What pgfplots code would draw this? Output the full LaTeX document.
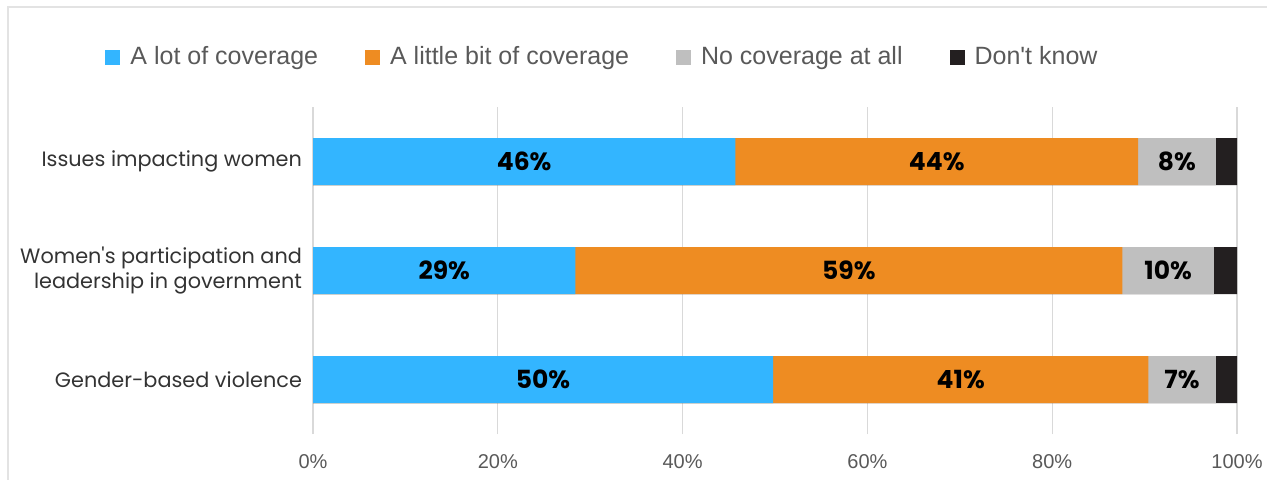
\documentclass[border=0pt]{standalone}
\usepackage{pgfplots}
\pgfplotsset{compat=1.18}
\usepackage{fontspec}
\setmainfont{Liberation Sans}[Ligatures=TeXReset]
\newfontfamily\popp{Poppins}[Ligatures=TeXReset]
\definecolor{cblue}{HTML}{33B5FF}
\definecolor{corange}{HTML}{EE8C22}
\definecolor{cgray}{HTML}{BFBFBF}
\definecolor{cdark}{HTML}{231F20}
\definecolor{txt}{HTML}{595959}
\definecolor{gridc}{HTML}{D9D9D9}
\definecolor{framec}{HTML}{E3E3E3}
\begin{document}
\begin{tikzpicture}
\useasboundingbox (0,0) rectangle (633.5pt,-239.5pt);
\draw[framec, line width=1pt] (4pt,-250pt) -- (4pt,-3.5pt) -- (640pt,-3.5pt);
\begin{axis}[
  at={(156.5pt,-217pt)}, anchor=south west,
  scale only axis, width=462pt, height=163.5pt,
  bar width=23.5pt,
  xmin=0, xmax=100, ymin=-0.5, ymax=2.5,
  ytick={0,1,2},
  yticklabels={Gender-based violence, {Women's participation and\\leadership in government}, Issues impacting women},
  yticklabel style={align=right, font=\popp\fontsize{10.4}{12.5}\selectfont, text=black!80, xshift=-2pt},
  xtick={0,20,...,100},
  xticklabel={\pgfmathprintnumber{\tick}\%},
  xticklabel style={font=\fontsize{10}{12}\selectfont, text=txt, yshift=-6.5pt},
  /pgf/number format/assume math mode=true,
  major tick length=0pt,
  xmajorgrids, grid style={gridc, line width=0.6pt},
  axis line style={draw=none},
  legend columns=4,
  reverse legend,
  legend style={at={(-0.225,1.152)}, anchor=west, draw=none, fill=none, font=\fontsize{12.5}{14}\selectfont, text=txt, inner sep=0pt, column sep=3pt, /tikz/every even column/.append style={column sep=21.5pt}},
  legend image code/.code={\fill[#1] (0pt,-3.6pt) rectangle (7.5pt,3.6pt);},
]
% cumulative right ends of each segment
\addplot[xbar, bar shift=0pt, fill=cdark, draw=none] coordinates {(100,0) (100,1) (100,2)};
\addplot[xbar, bar shift=0pt, fill=cgray, draw=none] coordinates {(97.7,0) (97.5,1) (97.7,2)};
\addplot[xbar, bar shift=0pt, fill=corange, draw=none] coordinates {(90.4,0) (87.6,1) (89.3,2)};
\addplot[xbar, bar shift=0pt, fill=cblue, draw=none] coordinates {(49.8,0) (28.4,1) (45.7,2)};
% segment labels at segment centres
\addplot[draw=none, mark=none, forget plot, point meta=explicit symbolic, nodes near coords,
  every node near coord/.append style={font=\popp\bfseries\fontsize{12.5}{14}\selectfont, text=black, anchor=center}]
  coordinates {(24.9,0) [50\%] (14.2,1) [29\%] (22.85,2) [46\%]
               (70.1,0) [41\%] (58.0,1) [59\%] (67.5,2) [44\%]
               (94.05,0) [7\%] (92.55,1) [10\%] (93.5,2) [8\%]};
\legend{Don't know, No coverage at all, A little bit of coverage, A lot of coverage}
\end{axis}
\end{tikzpicture}
\end{document}
